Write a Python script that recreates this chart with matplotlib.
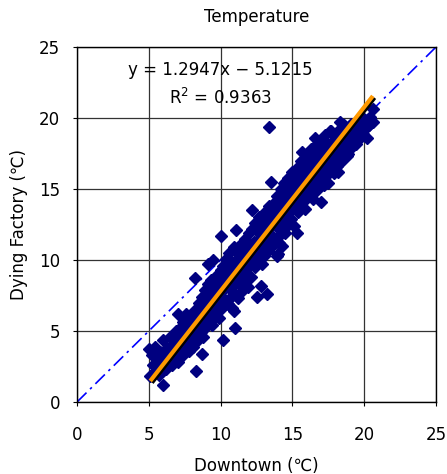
import matplotlib
matplotlib.use("Agg")
import matplotlib.pyplot as plt
import matplotlib.patheffects as pe
import numpy as np

plt.rcParams['font.family'] = ['DejaVu Sans', 'Noto Sans CJK JP']

# hourly temperature pairs
pts = [
    (5.0,3.7),(5.1,1.8),(5.2,3.3),(5.3,2.6),(5.4,3.9),(5.5,2.2),(5.6,3.0),(5.7,1.9),(5.8,3.5),(5.9,2.7),
    (6.0,1.2),(6.0,4.4),(6.1,3.1),(6.2,2.3),(6.3,3.8),(6.4,2.9),(6.5,4.6),(6.5,3.4),(6.6,2.6),(6.7,4.1),
    (6.8,3.2),(6.9,5.0),(6.9,3.7),(7.0,2.8),(7.1,4.5),(7.0,6.2),
    (7.2,3.6),(7.2,5.2),(7.3,4.2),(7.4,3.3),(7.4,5.6),(7.5,4.8),(7.6,3.9),(7.6,6.2),(7.7,4.4),(7.8,5.3),
    (7.8,3.6),(7.9,6.0),(8.0,4.7),(8.0,5.6),(8.1,3.9),(8.2,6.5),(8.2,8.7),(8.3,2.2),(8.3,5.1),(8.4,6.0),
    (8.4,4.4),(8.5,7.0),(8.5,5.5),(8.7,3.4),
    (8.6,6.4),(8.6,4.9),(8.7,7.4),(8.7,5.8),(8.8,6.8),(8.8,4.6),(8.9,7.9),(8.9,6.1),(9.0,5.3),(9.0,7.2),
    (9.1,6.6),(9.1,8.3),(9.2,5.7),(9.2,7.0),(9.3,6.2),(9.3,8.6),(9.4,7.5),(9.4,5.4),(9.5,6.9),(9.5,8.1),
    (9.6,7.7),(9.6,6.0),(9.7,8.9),(9.7,7.1),(9.8,6.5),(9.8,8.4),(9.9,7.8),(9.9,5.9),(10.0,11.7),(10.0,9.3),
    (10.0,7.3),(10.1,8.6),(10.1,6.6),(10.2,4.4),(10.2,7.9),(10.2,9.6),(9.5,10.0),(9.1,9.7),
    (10.3,8.9),(10.3,7.2),(10.4,10.1),(10.4,8.3),(10.5,6.9),(10.5,9.4),(10.6,8.0),(10.6,10.5),(10.7,8.7),
    (10.7,7.4),(10.8,9.8),(10.8,6.6),(10.9,9.1),(10.9,10.9),(11.0,8.4),(11.0,7.6),(11.1,9.6),(11.1,10.6),
    (11.2,8.9),(11.2,7.3),(11.3,10.2),(11.3,9.0),(11.4,11.1),(11.4,8.2),(11.5,9.9),(11.5,7.8),(11.6,10.7),
    (11.6,9.2),(11.7,11.5),(11.7,8.6),(11.8,10.1),(11.8,9.4),(11.9,11.0),(11.9,8.1),(12.0,10.5),(12.0,11.9),
    (12.0,9.6),(10.9,6.4),(11.0,5.2),(11.1,12.1),
    (12.1,10.9),(12.1,8.8),(12.2,9.9),(12.2,12.2),(12.3,11.3),(12.3,10.2),(12.4,12.6),(12.4,9.5),(12.5,11.0),
    (12.5,10.5),(12.6,12.0),(12.6,9.9),(12.7,11.5),(12.7,13.0),(12.8,8.2),(12.8,10.7),(12.8,12.4),(12.9,11.2),
    (12.9,9.7),(13.0,12.8),(13.0,11.6),(13.0,10.3),(13.1,13.4),(13.1,12.1),(13.2,11.0),(13.2,7.6),(13.3,12.6),
    (13.3,10.6),(13.4,13.8),(13.4,19.4),(13.4,11.9),(13.5,15.5),(13.5,12.4),(13.5,10.9),(13.6,13.1),(13.6,11.5),
    (13.7,14.0),(13.7,12.7),(13.8,11.2),(13.8,13.5),(13.9,12.3),(13.9,14.5),(14.0,13.0),(14.0,11.6),(14.0,14.1),
    (12.5,7.4),(12.2,13.5),(14.0,10.4),(13.9,10.3),
    (14.1,12.6),(14.1,13.7),(14.2,15.0),(14.2,12.1),(14.3,13.3),(14.3,14.4),(14.4,12.8),(14.4,15.4),(14.5,13.9),
    (14.5,11.9),(14.6,14.7),(14.6,13.2),(14.7,15.8),(14.7,12.5),(14.8,14.1),(14.8,13.5),(14.9,15.2),(14.9,12.9),
    (15.0,14.5),(15.0,16.2),(15.0,13.6),(15.1,14.9),(15.1,12.4),(15.2,15.6),(15.2,13.9),(15.3,11.9),(15.3,14.3),
    (15.3,16.5),(15.4,15.1),(15.4,13.4),(15.5,16.0),(15.5,14.6),(15.6,17.0),(15.6,13.9),(15.7,15.4),(15.7,17.6),
    (15.8,14.8),(15.8,16.3),(15.9,13.6),(15.9,15.8),(16.0,16.7),(16.0,14.4),(16.0,15.2),(14.3,11.0),(14.1,11.2),
    (16.1,17.3),(16.1,15.6),(16.2,14.7),(16.2,16.4),(16.3,17.8),(16.3,15.1),(16.4,16.0),(16.4,14.3),(16.5,17.0),
    (16.5,15.5),(16.6,18.6),(16.6,16.3),(16.7,14.9),(16.7,17.5),(16.8,16.0),(16.8,15.3),(16.9,17.9),(16.9,16.6),
    (17.0,14.1),(17.0,17.1),(17.0,15.8),(17.1,18.3),(17.1,16.4),(17.2,15.3),(17.2,17.6),(17.3,16.9),(17.3,18.8),
    (17.4,16.0),(17.4,17.3),(17.5,15.4),(17.5,18.1),(17.6,16.7),(17.6,17.7),(17.7,19.1),(17.7,16.3),(17.8,17.4),
    (17.8,18.4),(17.9,16.1),(17.9,17.0),(18.0,18.7),(18.0,17.6),(16.7,18.2),(17.6,19.1),
    (18.1,16.6),(18.1,18.1),(18.2,16.2),(18.2,17.5),(18.3,19.2),(18.3,17.9),(18.4,16.9),(18.5,18.4),(18.5,17.4),
    (18.6,19.5),(18.7,17.8),(18.7,18.8),(18.8,17.3),(18.9,17.5),(18.9,19.0),(19.0,18.3),(19.1,19.6),(19.1,17.9),
    (19.2,18.7),(19.3,19.3),(19.4,18.2),(19.5,19.8),(19.5,18.9),(19.6,19.3),(19.7,18.6),(19.8,20.1),(19.9,18.9),
    (19.9,19.6),(20.0,19.9),(20.1,19.3),(20.3,19.5),(20.4,20.1),(20.6,19.7),(20.6,20.6),(18.3,19.7),(20.2,18.6),
]
downtown = [p[0] for p in pts]
dying = [p[1] for p in pts]

slope = 1.2947
intercept = -5.1215
r2 = 0.9363
fit_x = [5.1, 20.6]
ticks = [0, 5, 10, 15, 20, 25]

fig = plt.figure(figsize=(4.47, 4.74), dpi=100)
ax = fig.add_axes([0.1723, 0.1519, 0.8031, 0.7489])

ax.plot([0, 25], [0, 25], color='#0000ff', lw=1.2, dashes=(8, 3, 1.5, 3), zorder=2)
ax.plot(downtown, dying, ls='none', marker='D', ms=6, color='#000080', mec='#000080', zorder=3)

fx = np.array(fit_x)
ax.plot(fx, slope * fx + intercept, color='#ff9900', lw=3, solid_capstyle='butt', zorder=4,
        path_effects=[pe.SimpleLineShadow(offset=(1.2, -1.2), shadow_color='black', alpha=1), pe.Normal()])

ax.set_xlim(0, 25)
ax.set_ylim(0, 25)
ax.set_xticks(ticks)
ax.set_yticks(ticks)
ax.grid(True, color='#333333', lw=0.9)
ax.set_axisbelow(True)
for s in ax.spines.values():
    s.set_color('black')
    s.set_linewidth(1)
ax.tick_params(labelsize=12, length=3, direction='out')
ax.tick_params(axis='x', pad=14)
ax.tick_params(axis='y', pad=9)

ax.text(9.96, 23.4, 'y = %.4fx \u2212 %.4f' % (slope, -intercept), ha='center', va='center', fontsize=12)
ax.text(9.96, 21.4, 'R$^2$ = %.4f' % r2, ha='center', va='center', fontsize=12)

fig.text(0.5 * (0.1723 + 0.9754), 1 - 17 / 474, 'Temperature', ha='center', va='center', fontsize=12)
ax.set_xlabel('Downtown (℃)', fontsize=12)
ax.set_ylabel('Dying Factory (℃)', fontsize=12)
ax.xaxis.set_label_coords(0.5, (402 - 466) / 355)
ax.xaxis.label.set_va('center')
ax.yaxis.set_label_coords((19 - 77) / 359, 0.5)
ax.yaxis.label.set_va('center')

fig.savefig('out.png', dpi=100)
